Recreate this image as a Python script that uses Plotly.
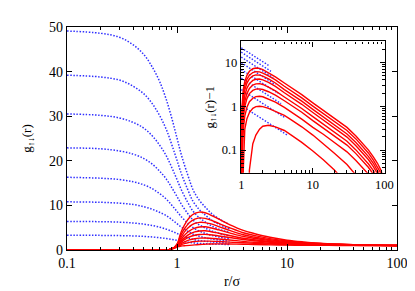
import plotly.graph_objects as go

# ---------------- data ----------------
BLUE_R = [0.1, 0.2, 0.3, 0.4, 0.5, 0.6, 0.7, 0.8, 0.9, 1.0, 1.1, 1.25, 1.4, 1.6, 1.8, 2.0, 2.4, 3.0]
BLUE_G = [
    [49.1, 48.6, 47.7, 46.0, 43.8, 40.9, 37.6, 33.7, 29.4, 25.1, 21.2, 16.9, 13.5, 11.1, 9.66, 8.46, 7.01, 5.71],
    [39.2, 38.8, 38.1, 36.7, 35.0, 32.7, 30.0, 27.0, 23.5, 20.1, 17.0, 13.6, 10.9, 9.02, 7.88, 6.92, 5.78, 4.74],
    [30.5, 30.2, 29.6, 28.6, 27.3, 25.5, 23.4, 21.1, 18.4, 15.8, 13.4, 10.7, 8.7, 7.2, 6.31, 5.57, 4.69, 3.89],
    [22.9, 22.7, 22.2, 21.5, 20.5, 19.2, 17.6, 15.9, 13.9, 12.0, 10.2, 8.2, 6.7, 5.6, 4.94, 4.39, 3.74, 3.15],
    [16.3, 16.1, 15.8, 15.3, 14.6, 13.7, 12.6, 11.4, 10.0, 8.65, 7.4, 6.05, 5.0, 4.21, 3.75, 3.37, 2.91, 2.5],
    [10.8, 10.7, 10.5, 10.2, 9.7, 9.1, 8.4, 7.7, 6.8, 5.9, 5.1, 4.2, 3.55, 3.06, 2.76, 2.52, 2.23, 1.96],
    [6.4, 6.35, 6.24, 6.05, 5.8, 5.48, 5.1, 4.67, 4.19, 3.7, 3.27, 2.78, 2.4, 2.13, 1.97, 1.84, 1.68, 1.53],
    [3.3, 3.28, 3.23, 3.15, 3.05, 2.91, 2.75, 2.56, 2.36, 2.15, 1.97, 1.76, 1.6, 1.48, 1.41, 1.36, 1.29, 1.23],
]

# inset blue dotted lines: g - 1 read at r = 1, 1.5 and where each meets the red curves
INSET_BLUE_R = [
    [1.0, 1.5, 2.4], [1.0, 1.5, 2.6], [1.0, 1.5, 2.8], [1.0, 1.5, 3.0],
    [1.0, 1.5, 3.3], [1.0, 1.5, 3.6], [1.0, 1.5, 4.0], [1.0, 1.5, 4.5],
]
INSET_BLUE_V = [
    [21.6, 14.1, 8.6], [17.2, 11.2, 6.3], [13.3, 8.7, 4.5], [9.9, 6.5, 3.1],
    [6.9, 4.5, 1.97], [4.4, 2.9, 1.15], [2.4, 1.57, 0.56], [1.04, 0.68, 0.215],
]

RED_R = [0.1, 0.8, 0.85, 0.9, 0.95, 0.98, 1.0, 1.03, 1.07, 1.12, 1.2, 1.3, 1.45, 1.6, 1.8, 2.0, 2.4,
         3.0, 4.0, 5, 7, 10, 14, 20, 30, 40, 50, 60, 70, 80, 90, 95, 100]
RED_G = [
    [0, 0, 0.1, 0.32, 0.65, 1.02, 1.34, 2.1, 3.5, 4.7, 6.1, 7.3, 8.2, 8.5, 8.35, 7.9, 6.9,
     5.7, 4.4, 3.71, 2.85, 2.20, 1.82, 1.54, 1.33, 1.21, 1.14, 1.10, 1.070, 1.050, 1.034, 1.025, 1.017],
    [0, 0, 0.1, 0.31, 0.63, 0.99, 1.25, 1.85, 3.0, 4.0, 5.15, 6.15, 6.9, 7.2, 7.1, 6.75, 5.95,
     5.0, 3.87, 3.28, 2.56, 2.01, 1.69, 1.45, 1.28, 1.18, 1.118, 1.085, 1.059, 1.042, 1.029, 1.021, 1.014],
    [0, 0, 0.1, 0.3, 0.62, 0.97, 1.18, 1.65, 2.5, 3.35, 4.4, 5.25, 5.95, 6.2, 6.15, 5.9, 5.25,
     4.4, 3.41, 2.92, 2.31, 1.85, 1.58, 1.38, 1.234, 1.149, 1.099, 1.071, 1.050, 1.035, 1.024, 1.018, 1.012],
    [0, 0, 0.1, 0.3, 0.6, 0.95, 1.12, 1.42, 2.05, 2.75, 3.6, 4.3, 4.9, 5.15, 5.2, 5.0, 4.5,
     3.85, 3.04, 2.62, 2.11, 1.72, 1.49, 1.32, 1.198, 1.125, 1.084, 1.060, 1.042, 1.030, 1.021, 1.015, 1.010],
    [0, 0, 0.1, 0.29, 0.58, 0.93, 1.07, 1.27, 1.75, 2.3, 2.95, 3.55, 4.05, 4.25, 4.3, 4.15, 3.75,
     3.25, 2.63, 2.30, 1.89, 1.58, 1.39, 1.26, 1.159, 1.101, 1.067, 1.048, 1.034, 1.024, 1.016, 1.012, 1.008],
    [0, 0, 0.1, 0.28, 0.56, 0.9, 1.04, 1.16, 1.55, 1.98, 2.5, 2.95, 3.3, 3.47, 3.5, 3.42, 3.15,
     2.8, 2.34, 2.07, 1.73, 1.47, 1.32, 1.21, 1.13, 1.083, 1.055, 1.040, 1.028, 1.020, 1.014, 1.010, 1.007],
    [0, 0, 0.09, 0.26, 0.52, 0.85, 0.98, 1.06, 1.3, 1.6, 1.95, 2.27, 2.53, 2.66, 2.7, 2.65, 2.48,
     2.25, 1.94, 1.75, 1.51, 1.33, 1.23, 1.149, 1.091, 1.058, 1.039, 1.028, 1.019, 1.014, 1.009, 1.007, 1.005],
    [0, 0, 0.08, 0.24, 0.48, 0.8, 0.92, 0.99, 1.04, 1.3, 1.52, 1.72, 1.9, 1.98, 2.0, 1.98, 1.9,
     1.77, 1.62, 1.49, 1.34, 1.22, 1.14, 1.085, 1.047, 1.028, 1.018, 1.012, 1.009, 1.006, 1.004, 1.003, 1.002],
    [0, 0, 0.07, 0.2, 0.4, 0.56, 0.65, 0.75, 0.85, 0.92, 0.97, 1.035, 1.14, 1.22, 1.30, 1.35, 1.37,
     1.34, 1.28, 1.22, 1.15, 1.095, 1.06, 1.035, 1.018, 1.01, 1.006, 1.004, 1.003, 1.002, 1.001, 1.001, 1.001],
]

MAIN_X_TICKS = [0.1, 1, 10, 100]
MAIN_X_LABELS = ["0.1", "1", "10", "100"]
MAIN_Y_TICKS = [0, 10, 20, 30, 40, 50]
INSET_X_TICKS = [1, 10, 100]
INSET_X_LABELS = ["1", "10", "100"]
INSET_Y_TICKS = [0.1, 1, 10]
INSET_Y_LABELS = ["0.1", "1", "10"]

BLUE = "#3030ff"
RED = "#ff0000"
FONT = "Liberation Serif, Times New Roman, Times, serif"
DOTS = "1.5px,1.6px"


def minor_log(lo_exp, hi_exp):
    vals = []
    for e in range(lo_exp, hi_exp):
        for m in range(2, 10):
            vals.append(m * 10 ** e)
    return vals


fig = go.Figure()

# main plot
for g in BLUE_G:
    fig.add_trace(go.Scatter(x=BLUE_R, y=g, mode="lines", line=dict(color=BLUE, width=1.5, dash=DOTS, shape="spline"),
                             xaxis="x", yaxis="y", hoverinfo="skip"))
for g in RED_G:
    fig.add_trace(go.Scatter(x=RED_R, y=g, mode="lines", line=dict(color=RED, width=1.4, shape="spline"),
                             xaxis="x", yaxis="y", hoverinfo="skip"))

# inset: g - 1 on log-log
for xs, ys in zip(INSET_BLUE_R, INSET_BLUE_V):
    fig.add_trace(go.Scatter(x=xs, y=ys, mode="lines", line=dict(color=BLUE, width=1.4, dash=DOTS),
                             xaxis="x2", yaxis="y2", hoverinfo="skip"))
for g in RED_G:
    xs, ys = [], []
    for r, v in zip(RED_R, g):
        if r >= 0.95:
            xs.append(r)
            ys.append(v - 1 if v - 1 > 0 else 1e-4)
    fig.add_trace(go.Scatter(x=xs, y=ys, mode="lines", line=dict(color=RED, width=1.4),
                             xaxis="x2", yaxis="y2", hoverinfo="skip"))

axis_common = dict(showgrid=False, zeroline=False, showline=True, linecolor="black", linewidth=1.3,
                   mirror="allticks", ticks="inside", tickcolor="black")

fig.update_layout(
    width=415, height=291,
    margin=dict(l=59, r=26, t=16, b=44),
    paper_bgcolor="white", plot_bgcolor="white",
    showlegend=False,
    font=dict(family=FONT, color="black", size=14),
    xaxis=dict(type="log", range=[-1, 2], domain=[0, 1], anchor="y",
               tickvals=MAIN_X_TICKS, ticktext=MAIN_X_LABELS, ticklen=6, tickwidth=1,
               tickfont=dict(family=FONT, size=14, color="black"),
               minor=dict(tickvals=minor_log(-1, 2), ticks="inside", ticklen=3, tickcolor="black"),
               title=dict(text="r/σ", font=dict(family=FONT, size=14, color="black"), standoff=6),
               **axis_common),
    yaxis=dict(range=[0, 50], domain=[0, 1], anchor="x",
               tickvals=MAIN_Y_TICKS, ticklen=5, tickwidth=1,
               tickfont=dict(family=FONT, size=14, color="black"),
               title=dict(text="g<sub>↑↓</sub>(r)", font=dict(family=FONT, size=13, color="black"), standoff=14),
               **axis_common),
    xaxis2=dict(type="log", range=[-0.005, 2.01], domain=[0.527, 0.964], anchor="y2",
                tickvals=INSET_X_TICKS, ticktext=INSET_X_LABELS, ticklen=5, tickwidth=1,
                tickfont=dict(family=FONT, size=12.5, color="black"),
                minor=dict(tickvals=minor_log(0, 2), ticks="inside", ticklen=2.5, tickcolor="black"),
                **axis_common),
    yaxis2=dict(type="log", range=[-1.52, 1.48], domain=[0.346, 0.935], anchor="x2",
                tickvals=INSET_Y_TICKS, ticktext=INSET_Y_LABELS, ticklen=5, tickwidth=1,
                tickfont=dict(family=FONT, size=12.5, color="black"),
                minor=dict(tickvals=minor_log(-2, 2), ticks="inside", ticklen=2.5, tickcolor="black"),
                title=dict(text="g<sub>↑↓</sub>(r)−1", font=dict(family=FONT, size=13, color="black"), standoff=4),
                **axis_common),
)

fig.write_html("out.html")
